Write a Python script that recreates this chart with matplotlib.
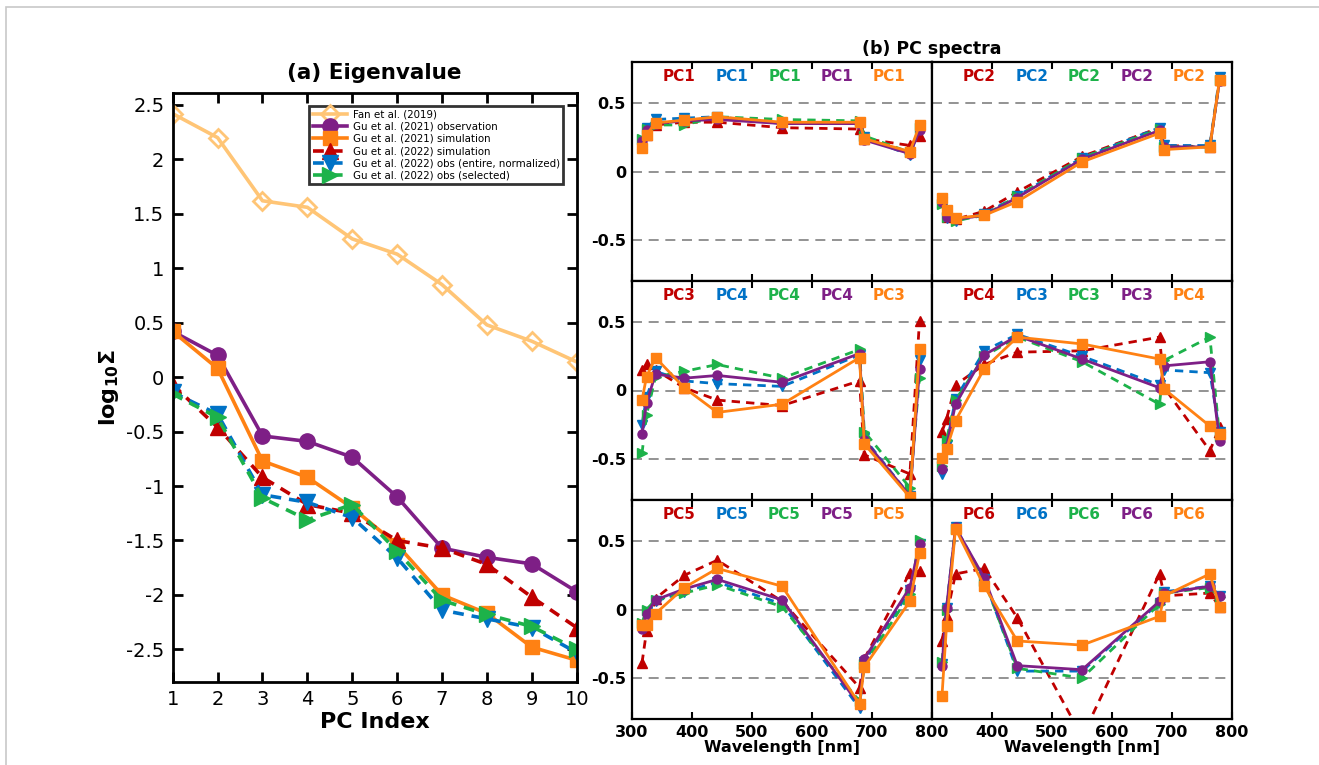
import numpy as np
import matplotlib
matplotlib.use('Agg')
import matplotlib.pyplot as plt
from matplotlib.patches import Rectangle

# ---- (a) eigenvalues ----
pc_index = np.arange(1, 11)
fan2019 = [2.42, 2.20, 1.62, 1.56, 1.27, 1.13, 0.85, 0.48, 0.33, 0.14]
gu21_obs = [0.42, 0.20, -0.54, -0.59, -0.735, -1.10, -1.57, -1.655, -1.715, -1.97]
gu21_sim = [0.42, 0.08, -0.77, -0.92, -1.20, -1.54, -2.00, -2.17, -2.48, -2.60]
gu22_sim = [-0.07, -0.46, -0.92, -1.17, -1.25, -1.50, -1.57, -1.72, -2.02, -2.30]
gu22_obs_entire = [-0.14, -0.34, -1.08, -1.15, -1.29, -1.66, -2.14, -2.22, -2.30, -2.53]
gu22_obs_sel = [-0.155, -0.37, -1.11, -1.31, -1.17, -1.60, -2.05, -2.18, -2.29, -2.50]

# ---- (b) PC spectra (EPIC channels) ----
wavelength = [317.5, 325, 340, 388, 443, 551, 680, 688, 764, 780]

# order in each panel: red (Gu22 sim), blue (Gu22 obs entire), green (Gu22 obs sel),
# purple (Gu21 obs), orange (Gu21 sim)
pc1_red    = [0.20, 0.27, 0.34, 0.36, 0.36, 0.32, 0.31, 0.24, 0.19, 0.26]
pc1_blue   = [0.22, 0.32, 0.38, 0.39, 0.40, 0.35, 0.35, 0.25, 0.12, 0.32]
pc1_green  = [0.24, 0.31, 0.34, 0.34, 0.40, 0.38, 0.37, 0.26, 0.14, 0.32]
pc1_purple = [0.22, 0.30, 0.35, 0.37, 0.38, 0.35, 0.35, 0.23, 0.13, 0.30]
pc1_orange = [0.17, 0.27, 0.355, 0.375, 0.40, 0.36, 0.36, 0.24, 0.145, 0.34]

pc2_red    = [-0.22, -0.33, -0.35, -0.29, -0.15, 0.11, 0.32, 0.19, 0.18, 0.67]
pc2_blue   = [-0.22, -0.34, -0.36, -0.31, -0.18, 0.10, 0.32, 0.19, 0.19, 0.69]
pc2_green  = [-0.24, -0.33, -0.36, -0.32, -0.18, 0.10, 0.31, 0.18, 0.18, 0.67]
pc2_purple = [-0.22, -0.33, -0.35, -0.32, -0.19, 0.09, 0.30, 0.18, 0.18, 0.66]
pc2_orange = [-0.19, -0.28, -0.34, -0.32, -0.22, 0.07, 0.28, 0.16, 0.18, 0.67]

row2l_red    = [0.15, 0.19, 0.15, 0.02, -0.07, -0.11, 0.07, -0.47, -0.61, 0.51]
row2l_blue   = [-0.25, -0.05, 0.14, 0.07, 0.05, 0.03, 0.26, -0.35, -0.77, 0.22]
row2l_green  = [-0.46, -0.18, 0.10, 0.14, 0.19, 0.09, 0.30, -0.30, -0.71, 0.09]
row2l_purple = [-0.32, -0.09, 0.12, 0.09, 0.11, 0.06, 0.27, -0.36, -0.77, 0.16]
row2l_orange = [-0.07, 0.10, 0.24, 0.02, -0.16, -0.10, 0.24, -0.39, -0.78, 0.30]

row2r_red    = [-0.30, -0.21, 0.04, 0.19, 0.28, 0.29, 0.39, 0.02, -0.44, -0.27]
row2r_blue   = [-0.61, -0.40, -0.06, 0.29, 0.41, 0.25, 0.04, 0.15, 0.13, -0.30]
row2r_green  = [-0.55, -0.36, -0.07, 0.25, 0.39, 0.21, -0.10, 0.22, 0.39, -0.33]
row2r_purple = [-0.57, -0.41, -0.10, 0.26, 0.40, 0.23, 0.02, 0.18, 0.21, -0.37]
row2r_orange = [-0.49, -0.43, -0.22, 0.16, 0.39, 0.34, 0.23, 0.01, -0.26, -0.32]

pc5_red    = [-0.39, -0.16, 0.08, 0.25, 0.36, 0.06, -0.57, -0.36, 0.27, 0.28]
pc5_blue   = [-0.12, -0.02, 0.06, 0.13, 0.20, 0.04, -0.72, -0.38, 0.14, 0.48]
pc5_green  = [-0.10, 0.00, 0.07, 0.12, 0.18, 0.02, -0.67, -0.40, 0.11, 0.51]
pc5_purple = [-0.14, -0.03, 0.07, 0.15, 0.22, 0.07, -0.70, -0.36, 0.16, 0.48]
pc5_orange = [-0.11, -0.11, -0.03, 0.16, 0.30, 0.17, -0.69, -0.42, 0.06, 0.41]

pc6_red    = [-0.23, -0.05, 0.26, 0.30, -0.06, -0.93, 0.26, 0.10, 0.12, 0.02]
pc6_blue   = [-0.40, 0.01, 0.60, 0.22, -0.45, -0.45, 0.05, 0.13, 0.17, 0.10]
pc6_green  = [-0.38, 0.00, 0.59, 0.21, -0.43, -0.50, 0.04, 0.12, 0.16, 0.09]
pc6_purple = [-0.41, 0.01, 0.60, 0.23, -0.41, -0.44, 0.06, 0.12, 0.17, 0.10]
pc6_orange = [-0.63, -0.12, 0.59, 0.17, -0.23, -0.26, -0.05, 0.10, 0.26, 0.02]

panel_labels = [['PC1', 'PC1', 'PC1', 'PC1', 'PC1'],
                ['PC2', 'PC2', 'PC2', 'PC2', 'PC2'],
                ['PC3', 'PC4', 'PC4', 'PC4', 'PC3'],
                ['PC4', 'PC3', 'PC3', 'PC3', 'PC4'],
                ['PC5', 'PC5', 'PC5', 'PC5', 'PC5'],
                ['PC6', 'PC6', 'PC6', 'PC6', 'PC6']]

panel_data = [
  [pc1_red, pc1_blue, pc1_green, pc1_purple, pc1_orange],
  [pc2_red, pc2_blue, pc2_green, pc2_purple, pc2_orange],
  [row2l_red, row2l_blue, row2l_green, row2l_purple, row2l_orange],
  [row2r_red, row2r_blue, row2r_green, row2r_purple, row2r_orange],
  [pc5_red, pc5_blue, pc5_green, pc5_purple, pc5_orange],
  [pc6_red, pc6_blue, pc6_green, pc6_purple, pc6_orange],
]

# colors
c_fan = '#FFC576'
c_purple = '#7E1F86'
c_orange = '#FF8113'
c_red = '#C00000'
c_blue = '#0072C6'
c_green = '#1DB24A'

fig = plt.figure(figsize=(13.19, 7.65), dpi=100)
fig.patch.set_facecolor('white')

# faint page frame
fig.patches.append(Rectangle((6/1319, -0.1), 1.2, 1 - 7/765 + 0.1, transform=fig.transFigure,
                             fill=False, edgecolor='#c8c8c8', linewidth=1.2))

border_width = 2.0

# ---------------- (a) ----------------
ax = fig.add_axes([172.7/1319, 1 - 682/765, 404/1319, 589/765])
ax.plot(pc_index, fan2019, '-', color=c_fan, lw=2.6, marker='D', ms=9, mfc='none', mew=2.0,
        label='Fan et al. (2019)')
ax.plot(pc_index, gu21_obs, '-', color=c_purple, lw=2.6, marker='o', ms=11,
        label='Gu et al. (2021) observation')
ax.plot(pc_index, gu21_sim, '-', color=c_orange, lw=2.6, marker='s', ms=10,
        label='Gu et al. (2021) simulation')
ax.plot(pc_index, gu22_sim, '--', color=c_red, lw=2.6, marker='^', ms=11, dashes=(3, 2.2),
        label='Gu et al. (2022) simulation')
ax.plot(pc_index, gu22_obs_entire, '--', color=c_blue, lw=2.6, marker='v', ms=11, dashes=(3, 2.2),
        label='Gu et al. (2022) obs (entire, normalized)')
ax.plot(pc_index, gu22_obs_sel, '--', color=c_green, lw=2.6, marker='>', ms=11, dashes=(3, 2.2),
        label='Gu et al. (2022) obs (selected)')

ax.set_xlim(1, 10)
ax.set_ylim(-2.8, 2.61)
ax.set_xticks(pc_index)
ax.set_yticks([-2.5, -2, -1.5, -1, -0.5, 0, 0.5, 1, 1.5, 2, 2.5])
ax.set_yticklabels(['-2.5', '-2', '-1.5', '-1', '-0.5', '0', '0.5', '1', '1.5', '2', '2.5'])
ax.tick_params(direction='in', top=True, right=True, length=7, width=2, labelsize=14, pad=6)
[sp.set_linewidth(border_width) for sp in ax.spines.values()]
ax.set_title('(a) Eigenvalue', fontsize=15.5, fontweight='bold', pad=10)
ax.set_xlabel('PC Index', fontsize=16, fontweight='bold', labelpad=2)
ax.set_ylabel(r'$\mathbf{log_{10}\Sigma}$', fontsize=16, labelpad=4)
leg = ax.legend(loc='upper right', fontsize=7.4, frameon=True, fancybox=False,
                borderpad=0.35, labelspacing=0.22, handlelength=3.3, handletextpad=0.6,
                bbox_to_anchor=(0.98, 0.987), markerscale=1.0)
leg.get_frame().set_edgecolor('black')
leg.get_frame().set_linewidth(2.0)

# ---------------- (b) ----------------
x0 = 631.5 / 1319
col_w = 300 / 1319
y_top = 1 - 62 / 765
row_h = 219 / 765

series_style = [
  dict(color=c_red, ls='--', marker='^', dashes=(3, 2.2)),
  dict(color=c_blue, ls='--', marker='v', dashes=(3, 2.2)),
  dict(color=c_green, ls='--', marker='>', dashes=(3, 2.2)),
  dict(color=c_purple, ls='-', marker='o'),
  dict(color=c_orange, ls='-', marker='s'),
]
label_colors = [c_red, c_blue, c_green, c_purple, c_orange]
label_pos = [0.16, 0.335, 0.51, 0.685, 0.86]

for k in range(6):
  row, col = k // 2, k % 2
  axb = fig.add_axes([x0 + col * col_w, y_top - (row + 1) * row_h, col_w, row_h])
  for yv in [-0.5, 0, 0.5]:
    axb.axhline(yv, color='gray', lw=1.2, dashes=(6, 4), zorder=0)
  for i in range(5):
    st = dict(series_style[i])
    kw = dict(color=st['color'], lw=2.0, marker=st['marker'], ms=6.5, clip_on=True)
    if 'dashes' in st:
      axb.plot(wavelength, panel_data[k][i], '--', dashes=st['dashes'], **kw)
    else:
      axb.plot(wavelength, panel_data[k][i], '-', **kw)
  for i in range(5):
    axb.text(label_pos[i], 0.935, panel_labels[k][i], transform=axb.transAxes, ha='center',
             va='center', color=label_colors[i], fontsize=11, fontweight='bold')
  axb.set_xlim(300, 800)
  axb.set_ylim(-0.8, 0.8)
  axb.set_xticks([300, 400, 500, 600, 700, 800])
  axb.set_yticks([-0.5, 0, 0.5])
  axb.tick_params(axis='x', direction='in', top=True, bottom=True, length=5, width=1.5,
                  labelsize=11.5, pad=4)
  axb.tick_params(axis='y', length=0, labelsize=11.5, pad=4)
  for lab in axb.get_xticklabels() + axb.get_yticklabels():
    lab.set_fontweight('bold')
  if col == 0:
    axb.set_yticklabels(['-0.5', '0', '0.5'])
  else:
    axb.set_yticklabels([])
  if row < 2:
    axb.set_xticklabels([])
  else:
    if col == 0:
      axb.set_xticklabels(['300', '400', '500', '600', '700', '800'])
    else:
      axb.set_xticklabels(['', '400', '500', '600', '700', '800'])
    axb.set_xlabel('Wavelength [nm]', fontsize=11.5, fontweight='bold', labelpad=0)
  [sp.set_linewidth(1.6) for sp in axb.spines.values()]
  if k == 0:
    axb.text(1.0, 1.06, '(b) PC spectra', transform=axb.transAxes, ha='center', va='center',
             fontsize=12.5, fontweight='bold')

fig.savefig('out.png', dpi=100, facecolor=fig.get_facecolor())
